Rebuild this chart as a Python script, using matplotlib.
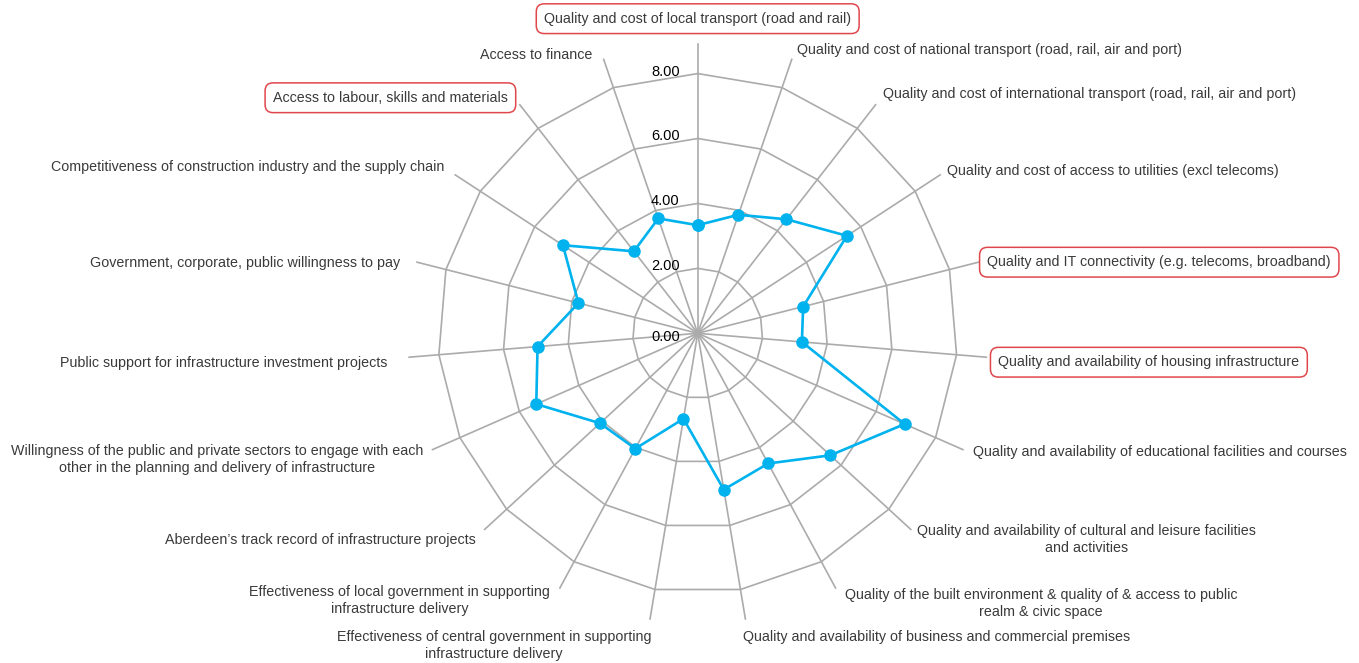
import numpy as np
import matplotlib
matplotlib.use('Agg')
import matplotlib.pyplot as plt

plt.rcParams['font.family'] = ['Liberation Sans', 'DejaVu Sans']

# Categories, clockwise from the top
categories = [
    'Quality and cost of local transport (road and rail)',
    'Quality and cost of national transport (road, rail, air and port)',
    'Quality and cost of international transport (road, rail, air and port)',
    'Quality and cost of access to utilities (excl telecoms)',
    'Quality and IT connectivity (e.g. telecoms, broadband)',
    'Quality and availability of housing infrastructure',
    'Quality and availability of educational facilities and courses',
    'Quality and availability of cultural and leisure facilities\nand activities',
    'Quality of the built environment & quality of & access to public\nrealm & civic space',
    'Quality and availability of business and commercial premises',
    'Effectiveness of central government in supporting\ninfrastructure delivery',
    'Effectiveness of local government in supporting\ninfrastructure delivery',
    'Aberdeen\u2019s track record of infrastructure projects',
    'Willingness of the public and private sectors to engage with each\nother in the planning and delivery of infrastructure',
    'Public support for infrastructure investment projects',
    'Government, corporate, public willingness to pay',
    'Competitiveness of construction industry and the supply chain',
    'Access to labour, skills and materials',
    'Access to finance',
]
scores = [3.33, 3.86, 4.45, 5.49, 3.35, 3.22, 6.96, 5.55, 4.56, 4.88,
          2.67, 4.04, 4.09, 5.43, 4.95, 3.79, 4.96, 3.20, 3.74]
highlighted = [0, 4, 5, 17]  # categories drawn in red boxes

ring_levels = [2, 4, 6, 8]
tick_values = [0, 2, 4, 6, 8]
tick_labels = ['0.00', '2.00', '4.00', '6.00', '8.00']

# label placement: pixel offset from spoke end, horizontal alignment
label_layout = [
    (0, 25, 'center'), (5, 9, 'left'), (7, 11, 'left'), (7, 4, 'left'),
    (9, 0, 'left'), (12, -5, 'left'), (10, -2, 'left'), (6, -10, 'left'),
    (9, -16, 'left'), (-2, -18, 'left'), (1, -27, 'right'), (-10, -13, 'right'),
    (-9, -11, 'right'), (-9, -10, 'right'), (-22, -6, 'right'), (-17, -1, 'right'),
    (-11, 8, 'right'), (-12, 7, 'right'), (-11, 4, 'right'),
]

GRID = '#ababab'
BLUE = '#00b2ee'
RMAX = 8.92

n = len(categories)
angles = np.linspace(0, 2 * np.pi, n, endpoint=False)

fig = plt.figure(figsize=(13.59, 6.63), dpi=100)
ax = fig.add_axes([0.3003, 0.0605, 0.4262, 0.8736], projection='polar')
ax.set_theta_zero_location('N')
ax.set_theta_direction(-1)
ax.set_ylim(0, RMAX)
ax.set_xticks([])
ax.set_yticks([])
ax.grid(False)
ax.spines['polar'].set_visible(False)
ax.patch.set_visible(False)

# polygon rings
closed = np.append(angles, angles[0])
for lvl in ring_levels:
    ax.plot(closed, [lvl] * (n + 1), color=GRID, lw=1.2, zorder=1)

# spokes
for a in angles:
    ax.plot([a, a], [0, RMAX], color=GRID, lw=1.2, zorder=1, clip_on=False)

# data
ax.plot(closed, scores + scores[:1], color=BLUE, lw=1.9, marker='o',
        markersize=8, zorder=3, clip_on=False)

# scale labels
for v, t in zip(tick_values, tick_labels):
    dy = -4 if v == 0 else 2
    ax.annotate(t, xy=(0, v), xytext=(-18, dy), textcoords='offset pixels',
                ha='right', va='center', fontsize=10.5, color='black')

# category labels
for i, (a, lab) in enumerate(zip(angles, categories)):
    dx, dy, ha = label_layout[i]
    kw = {}
    if i in highlighted:
        kw['bbox'] = dict(boxstyle='round,pad=0.55,rounding_size=0.55',
                          fc='white', ec='#e0474c', lw=1.1)
    ax.annotate(lab, xy=(a, RMAX), xytext=(dx, dy), textcoords='offset pixels',
                ha=ha, va='center', multialignment='center', linespacing=1.27,
                fontsize=10.3, color='#3a3a3a', annotation_clip=False, **kw)

fig.savefig('out.png', dpi=100)
